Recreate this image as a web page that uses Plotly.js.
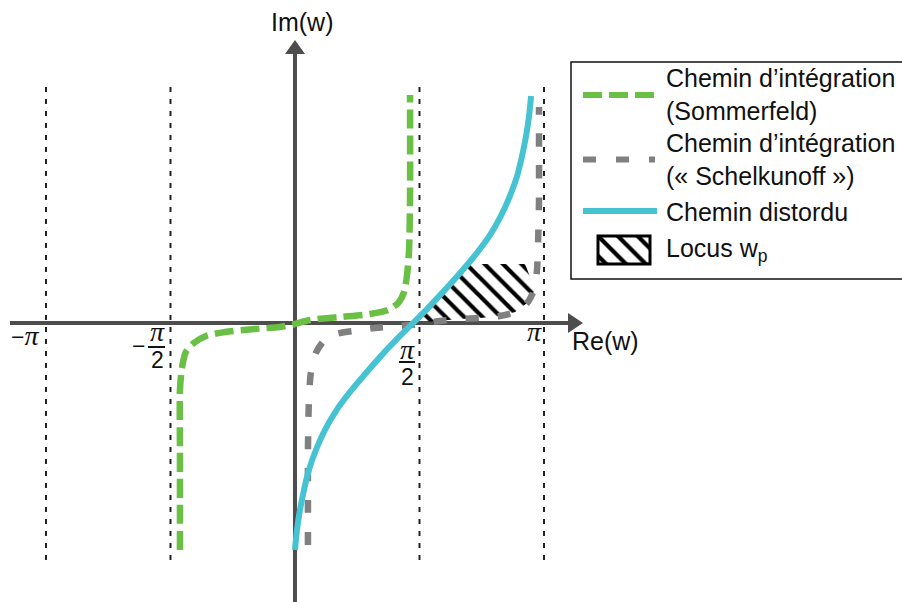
<!DOCTYPE html>
<html><head><meta charset="utf-8">
<script src="https://cdn.plot.ly/plotly-3.0.1.min.js"></script>
<style>html,body{margin:0;padding:0;background:#fff}#chart{width:902px;height:602px}</style>
</head><body><div id="chart"></div>
<script>
// Coordinates: x in units of pi (Re(w)/pi), y on the same scale (Im(w)/pi)
const sommerfeldX = [-0.462,-0.462,-0.462,-0.454,-0.438,-0.406,-0.357,-0.281,-0.161,-0.060,0,0.060,0.181,0.301,0.373,0.414,0.438,0.450,0.458,0.462,0.462];
const sommerfeldY = [-0.912,-0.510,-0.269,-0.181,-0.116,-0.080,-0.052,-0.036,-0.024,-0.016,-0.004,0.012,0.024,0.036,0.052,0.080,0.124,0.193,0.293,0.494,0.916];

const schelkunoffX = [0.052,0.052,0.052,0.056,0.064,0.084,0.116,0.165,0.233,0.321,0.422,0.502,0.582,0.663,0.743,0.823,0.884,0.932,0.960,0.972,0.976,0.980,0.980,0.980];
const schelkunoffY = [-0.892,-0.711,-0.510,-0.309,-0.197,-0.120,-0.072,-0.044,-0.032,-0.020,-0.012,-0.004,0.008,0.016,0.020,0.028,0.044,0.080,0.133,0.213,0.313,0.494,0.695,0.867];

const distorduX = [0,0.008,0.020,0.036,0.056,0.084,0.120,0.165,0.221,0.285,0.353,0.414,0.474,0.534,0.594,0.663,0.727,0.783,0.827,0.863,0.892,0.912,0.928,0.940,0.948];
const distorduY = [-0.912,-0.831,-0.751,-0.671,-0.590,-0.510,-0.430,-0.353,-0.277,-0.201,-0.124,-0.060,0,0.060,0.124,0.201,0.277,0.353,0.430,0.510,0.590,0.671,0.751,0.831,0.912];

const locusX = [0.474,0.534,0.594,0.663,0.703,0.924,0.964,0.932,0.884,0.823,0.743,0.663,0.582,0.502,0.474];
const locusY = [0,0.060,0.124,0.201,0.237,0.237,0.133,0.080,0.044,0.028,0.020,0.016,0.008,0,0];

const guideX = [-1,-0.5,0.5,1];
const guideYRange = [-0.952,0.976];

const legendLabels = ["Chemin d\u2019int\u00e9gration<br>(Sommerfeld)",
  "Chemin d\u2019int\u00e9gration<br>(\u00ab\u00a0Schelkunoff\u00a0\u00bb)",
  "Chemin distordu",
  "Locus w<sub>p</sub>"];

const GREEN = '#6abf45', GRAY = '#808080', CYAN = '#45c3d3', AXIS = '#4d4d4d';
const W = 902, H = 602;
const px = v => v / W, py = v => 1 - v / H;

// guides
const gx = [], gy = [];
guideX.forEach(x => { gx.push(x, x, null); gy.push(guideYRange[0], guideYRange[1], null); });

const traces = [
  {x: gx, y: gy, mode: 'lines', line: {color: '#222', width: 2, dash: '5px,7px'}, hoverinfo: 'skip'},
  {x: locusX, y: locusY, mode: 'lines', fill: 'toself', fillcolor: 'rgba(0,0,0,0)',
   fillpattern: {shape: '\\', fgcolor: '#000', bgcolor: 'rgba(255,255,255,0)', size: 13, solidity: 0.32},
   line: {width: 0}, hoverinfo: 'skip'},
  {x: sommerfeldX, y: sommerfeldY, mode: 'lines', line: {color: GREEN, width: 6.5, dash: '19px,7px', shape: 'spline', smoothing: 0.7}},
  {x: schelkunoffX, y: schelkunoffY, mode: 'lines', line: {color: GRAY, width: 6.5, dash: '13px,19px', shape: 'spline', smoothing: 0.7}},
  {x: distorduX, y: distorduY, mode: 'lines', line: {color: CYAN, width: 6, shape: 'spline', smoothing: 1}},
  // legend swatch for the locus (unit square on its own small axes)
  {x: [0,1,1,0,0], y: [0,0,1,1,0], xaxis: 'x2', yaxis: 'y2', mode: 'lines', fill: 'toself', fillcolor: 'rgba(0,0,0,0)',
   fillpattern: {shape: '\\', fgcolor: '#000', bgcolor: 'rgba(255,255,255,0)', size: 14, solidity: 0.3},
   line: {width: 0}, hoverinfo: 'skip'}
];

const sans = 'Liberation Sans, Arial, sans-serif';
const serif = 'Liberation Serif, Times New Roman, serif';
const ann = (x, y, text, opts) => Object.assign({xref: 'paper', yref: 'paper', x: px(x), y: py(y), text: text, showarrow: false,
  xanchor: 'center', yanchor: 'middle', font: {family: sans, size: 25, color: '#111'}}, opts || {});
const piFont = {family: serif, size: 28, color: '#111'};
const numFont = {family: sans, size: 23, color: '#111'};
const PI = '<span style="font-family:Liberation Serif;font-size:28px"><i>\u03c0</i></span>';

const annotations = [
  ann(302, 22, 'Im(w)'),
  ann(605, 341, 'Re(w)'),
  // tick labels
  ann(25, 335, '\u2212' + PI, {font: numFont}),
  ann(138, 346, '\u2212', {font: numFont}),
  ann(157, 331, '<i>\u03c0</i>', {font: piFont}),
  ann(157, 360, '2', {font: numFont}),
  ann(407, 349, '<i>\u03c0</i>', {font: piFont}),
  ann(407, 377, '2', {font: numFont}),
  ann(534, 332, '<i>\u03c0</i>', {font: piFont}),
  // legend text
  ann(664, 94.5, legendLabels[0], {xanchor: 'left', align: 'left'}),
  ann(664, 159.5, legendLabels[1], {xanchor: 'left', align: 'left'}),
  ann(664, 211.5, legendLabels[2], {xanchor: 'left', align: 'left'}),
  ann(664, 250, legendLabels[3], {xanchor: 'left', align: 'left'})
];

const pline = (x0, y0, x1, y1, line) => ({type: 'line', xref: 'paper', yref: 'paper', x0: px(x0), y0: py(y0), x1: px(x1), y1: py(y1), line: line});
const ppath = (pts) => 'M' + pts.map(p => px(p[0]) + ',' + py(p[1])).join(' L') + ' Z';

const shapes = [
  // axes (below traces)
  {type: 'line', xref: 'x', yref: 'y', x0: -1.1446, x1: 1.10, y0: 0, y1: 0, line: {color: AXIS, width: 4}, layer: 'below'},
  {type: 'line', xref: 'x', yref: 'y', x0: 0, x1: 0, y0: -1.2, y1: 1.08, line: {color: AXIS, width: 4}, layer: 'below'},
  // arrow heads
  {type: 'path', xref: 'paper', yref: 'paper', path: ppath([[583, 323], [568, 313], [568, 333]]), fillcolor: AXIS, line: {width: 0}},
  {type: 'path', xref: 'paper', yref: 'paper', path: ppath([[295, 40], [285, 54], [305, 54]]), fillcolor: AXIS, line: {width: 0}},
  // fraction bars
  pline(148, 347, 165, 347, {color: '#111', width: 2}),
  pline(399, 362, 415, 362, {color: '#111', width: 2}),
  // legend box
  {type: 'rect', xref: 'paper', yref: 'paper', x0: px(571), x1: px(915), y0: py(279), y1: py(62), line: {color: '#111', width: 1.5}},
  // legend swatches
  pline(583, 95, 655, 95, {color: GREEN, width: 6, dash: '19px,7px'}),
  pline(583, 159.5, 655, 159.5, {color: GRAY, width: 6, dash: '13px,20px'}),
  pline(583, 211, 657, 211, {color: CYAN, width: 6}),
  {type: 'rect', xref: 'paper', yref: 'paper', x0: px(598), x1: px(650), y0: py(264), y1: py(236), line: {color: '#000', width: 3}}
];

const layout = {
  width: W, height: H, margin: {l: 0, r: 0, t: 0, b: 0},
  paper_bgcolor: '#fff', plot_bgcolor: '#fff', showlegend: false,
  xaxis: {range: [-1.1847, 2.4378], visible: false, fixedrange: true},
  yaxis: {range: [-1.1205, 1.2972], visible: false, fixedrange: true},
  xaxis2: {domain: [px(598), px(650)], range: [0, 1], visible: false, anchor: 'y2', fixedrange: true},
  yaxis2: {domain: [py(264), py(236)], range: [0, 1], visible: false, anchor: 'x2', fixedrange: true},
  annotations: annotations, shapes: shapes
};

Plotly.newPlot('chart', traces, layout, {staticPlot: true, displayModeBar: false});
</script></body></html>
